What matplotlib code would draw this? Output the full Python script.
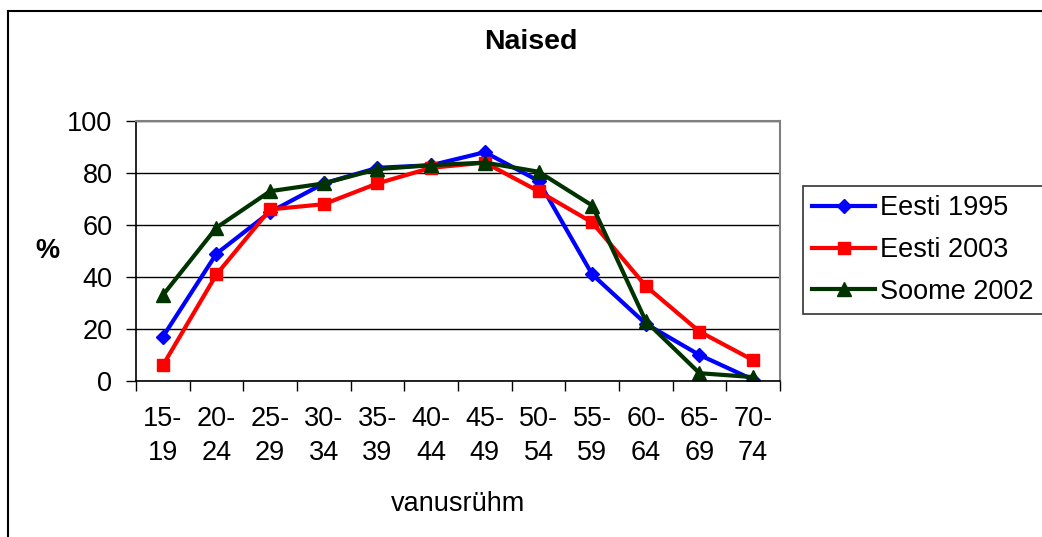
import matplotlib.pyplot as plt
import numpy as np

plt.rcParams['font.family'] = ['Liberation Sans', 'DejaVu Sans']

# Andmed
vanus = ['15-\n19', '20-\n24', '25-\n29', '30-\n34', '35-\n39', '40-\n44',
         '45-\n49', '50-\n54', '55-\n59', '60-\n64', '65-\n69', '70-\n74']
eesti_1995 = [17, 49, 65, 76, 82, 83, 88, 77, 41, 22, 10, 0.5]
eesti_2003 = [6, 41, 66, 68, 76, 82, 84, 73, 61, 36.5, 19, 8]
soome_2002 = [33, 59, 73, 76, 81.5, 83, 84, 80.5, 67.5, 23, 3, 1.5]

fs = 19.5

fig = plt.figure(figsize=(10.42, 5.37), dpi=100)
ax = fig.add_axes([136/1042, 1 - 381/537, 644/1042, 260/537])

x = np.arange(len(vanus))
ax.plot(x, eesti_1995, color='#0000FF', lw=3, marker='D', ms=7.5, label='Eesti 1995')
ax.plot(x, eesti_2003, color='#FF0000', lw=3, marker='s', ms=8.5, label='Eesti 2003')
ax.plot(x, soome_2002, color='#003300', lw=3, marker='^', ms=10, label='Soome 2002')

ax.set_xlim(-0.5, len(vanus) - 0.5)
ax.set_ylim(0, 100)
ax.set_yticks(range(0, 101, 20))
ax.yaxis.grid(True, color='black', lw=1)
ax.set_axisbelow(True)

# tikid kategooriate vahel, sildid keskel
ax.set_xticks(np.arange(-0.5, len(vanus), 1))
ax.set_xticklabels([])
ax.set_xticks(x, minor=True)
ax.set_xticklabels(vanus, minor=True, fontsize=fs, linespacing=1.4)
ax.tick_params(axis='x', which='major', direction='out', length=7, width=1, color='black')
ax.tick_params(axis='x', which='minor', length=0, pad=18)
ax.tick_params(axis='y', direction='out', length=7, width=1, pad=10, labelsize=fs)

for s in ['top', 'right']:
    ax.spines[s].set_color('#808080')
    ax.spines[s].set_linewidth(1.5)
for s in ['left', 'bottom']:
    ax.spines[s].set_color('black')
    ax.spines[s].set_linewidth(1.2)

ax.set_xlabel('vanusrühm', fontsize=fs, labelpad=18)
ax.set_ylabel('%', fontsize=fs, fontweight='bold', rotation=0, va='center', ha='center')
ax.yaxis.set_label_coords(-0.137, 0.5)

fig.text(531/1042, 1 - 42/537, 'Naised', fontsize=20.5, fontweight='bold',
         ha='center', va='center')

leg = ax.legend(loc='center left', bbox_to_anchor=(803/1042, 1 - 250/537),
                bbox_transform=fig.transFigure, fontsize=fs, frameon=True,
                fancybox=False, handlelength=2.3, handletextpad=0.2,
                borderpad=0.35, labelspacing=0.58, borderaxespad=0)
leg.get_frame().set_edgecolor('black')
leg.get_frame().set_linewidth(1.2)

# välimine raam
fig.add_artist(plt.Line2D([8/1042, 8/1042], [0, 1 - 11/537], color='black', lw=1.5,
                          transform=fig.transFigure))
fig.add_artist(plt.Line2D([8/1042, 1], [1 - 11/537, 1 - 11/537], color='black', lw=1.5,
                          transform=fig.transFigure))

plt.savefig('out.png', dpi=100)
plt.close()
